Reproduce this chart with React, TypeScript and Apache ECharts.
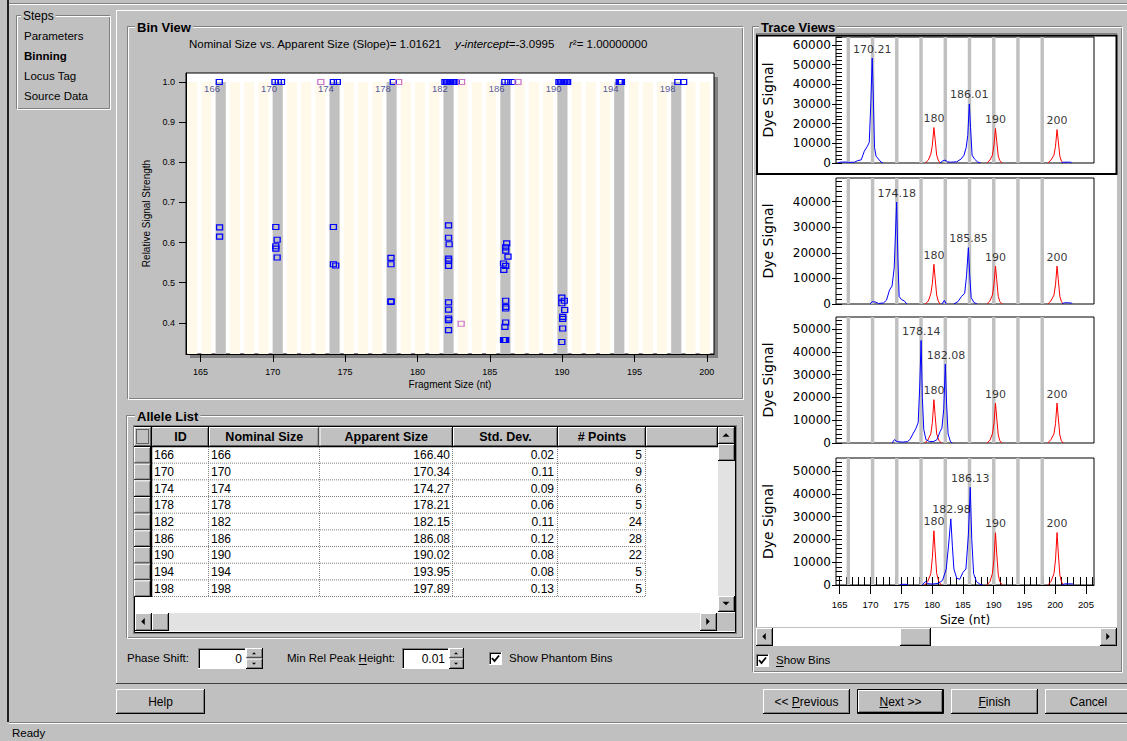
import React, { useEffect, useRef } from 'react';
import * as echarts from 'echarts';

const UI = '"Liberation Sans", Arial, Helvetica, sans-serif';
const DV = '"DejaVu Sans", Verdana, sans-serif';

// Regression shown in the Bin View title
const SLOPE = 1.01621;
const INTERCEPT = -3.0995;
const R_SQUARED = '1.00000000';

// Allele list
const alleleIds = ['166', '170', '174', '178', '182', '186', '190', '194', '198'];
const nominalSizes = ['166', '170', '174', '178', '182', '186', '190', '194', '198'];
const apparentSizes = [166.40, 170.34, 174.27, 178.21, 182.15, 186.08, 190.02, 193.95, 197.89];
const stdDevs = [0.02, 0.11, 0.09, 0.06, 0.11, 0.12, 0.08, 0.08, 0.13];
const pointCounts = [5, 9, 6, 5, 24, 28, 22, 5, 5];

// Phantom bins (every nominal size on the regression line)
const phantomNominals = [164, 165, 166, 167, 168, 169, 170, 171, 172, 173, 174, 175, 176, 177, 178, 179, 180, 181, 182, 183, 184, 185, 186, 187, 188, 189, 190, 191, 192, 193, 194, 195, 196, 197, 198, 199, 200];

// Bin view axes
const binXTicks = [165, 170, 175, 180, 185, 190, 195, 200];
const binYTicks = [0.4, 0.5, 0.6, 0.7, 0.8, 0.9, 1.0];

// Bin view points: [apparent size, relative signal strength]
const binPointsBlue = [
  [166.30, 1.0],
  [170.15, 1.0], [170.38, 1.0], [170.60, 1.0],
  [174.19, 1.0], [174.46, 1.0],
  [178.33, 1.0],
  [181.90, 1.0], [182.00, 1.0], [182.10, 1.0], [182.20, 1.0], [182.30, 1.0], [182.40, 1.0], [182.50, 1.0], [182.60, 1.0], [182.68, 1.0],
  [186.04, 1.0], [186.27, 1.0], [186.57, 1.0],
  [189.78, 1.0], [189.88, 1.0], [189.98, 1.0], [190.08, 1.0], [190.18, 1.0], [190.28, 1.0], [190.38, 1.0],
  [193.95, 1.0], [194.02, 1.0], [194.10, 1.0],
  [198.00, 1.0], [198.40, 1.0],
  [166.32, 0.638], [166.32, 0.615],
  [170.21, 0.639], [170.30, 0.607], [170.21, 0.591], [170.21, 0.585], [170.30, 0.563],
  [174.19, 0.639], [174.19, 0.546], [174.35, 0.543],
  [178.17, 0.562], [178.17, 0.546], [178.17, 0.452], [178.17, 0.454],
  [182.15, 0.643], [182.15, 0.612], [182.19, 0.596], [182.15, 0.560], [182.15, 0.555], [182.15, 0.542],
  [182.15, 0.451], [182.15, 0.433], [182.15, 0.411], [182.15, 0.407], [182.15, 0.382],
  [186.17, 0.598], [186.10, 0.588], [186.10, 0.580], [186.26, 0.565], [185.95, 0.548], [186.10, 0.542], [185.97, 0.532],
  [186.10, 0.455], [186.10, 0.440], [186.10, 0.436], [186.10, 0.401], [186.05, 0.390],
  [185.95, 0.3575], [186.03, 0.3575], [186.10, 0.3575],
  [189.98, 0.463], [190.15, 0.455], [189.98, 0.449], [190.18, 0.432], [190.04, 0.415], [190.04, 0.410], [190.04, 0.386], [189.98, 0.3525],
];
const binPointsPhantom = [
  [173.32, 1.0], [178.70, 1.0], [183.05, 1.0], [186.95, 1.0], [183.02, 0.398],
];

// Trace views
const traceXTicks = [165, 170, 175, 180, 185, 190, 195, 200, 205];
const traceYLabels1 = [0, 10000, 20000, 30000, 40000, 50000, 60000];
const traceYLabels2 = [0, 10000, 20000, 30000, 40000];
const traceYLabels3 = [0, 10000, 20000, 30000, 40000, 50000];
const traceYLabels4 = [0, 10000, 20000, 30000, 40000, 50000];

const trace1Blue = [
  [[164.7, 0], [165.1, 400], [165.9, 500], [166.4, 300], [167.4, 400], [167.9, 1200], [168.5, 1600], [169.0, 6000], [169.5, 8500], [169.8, 10500], [170.05, 30000], [170.28, 53300], [170.45, 35000], [170.65, 8000], [170.9, 3500], [171.3, 2000], [171.7, 500], [172.0, 0]],
  [[181.3, 0], [181.7, 1000], [182.1, 1500], [182.5, 600], [183.0, 400], [184.0, 600], [184.7, 2000], [185.2, 4000], [185.55, 8000], [185.8, 14000], [186.05, 30000], [186.25, 18000], [186.5, 4000], [186.9, 2000], [187.4, 500], [187.9, 0]],
  [[201.0, 0], [201.3, 400], [202.5, 400], [202.7, 0]],
];
const trace1Red = [
  [[178.9, 0], [179.4, 1500], [179.8, 4500], [180.05, 9000], [180.3, 18000], [180.5, 12000], [180.75, 4000], [181.0, 1500], [181.3, 0]],
  [[188.9, 0], [189.4, 1500], [189.8, 4000], [190.05, 9000], [190.3, 17500], [190.5, 11000], [190.75, 3500], [191.0, 1200], [191.4, 0]],
  [[198.8, 0], [199.3, 1500], [199.8, 4000], [200.05, 8500], [200.3, 17000], [200.5, 11000], [200.75, 3500], [201.0, 1000], [201.3, 0]],
];
const trace1Labels = [[170.28, 53300, '170.21'], [180.3, 18000, '180'], [186.05, 30000, '186.01'], [190.3, 17500, '190'], [200.3, 17000, '200']];

const trace2Blue = [
  [[169.9, 0], [170.3, 900], [170.9, 700], [171.3, 200], [172.1, 400], [172.6, 1500], [173.1, 5500], [173.5, 7000], [173.85, 14000], [174.25, 39800], [174.45, 18000], [174.65, 3000], [175.0, 1800], [175.5, 1200], [175.9, 0]],
  [[181.6, 0], [182.0, 1400], [182.3, 0]],
  [[183.5, 0], [184.2, 900], [184.8, 3000], [185.3, 4200], [185.6, 11000], [185.9, 22000], [186.1, 12000], [186.35, 2500], [186.8, 600], [187.3, 0]],
  [[201.1, 0], [201.5, 500], [202.6, 400], [202.8, 0]],
];
const trace2Red = [
  [[178.9, 0], [179.4, 1200], [179.8, 4000], [180.05, 8000], [180.3, 15500], [180.5, 10000], [180.75, 3500], [181.0, 1200], [181.3, 0]],
  [[188.9, 0], [189.4, 1200], [189.8, 3500], [190.05, 7500], [190.3, 14800], [190.5, 9500], [190.75, 3000], [191.0, 1000], [191.4, 0]],
  [[198.8, 0], [199.3, 1200], [199.8, 3500], [200.05, 7500], [200.3, 14800], [200.5, 9500], [200.75, 3000], [201.0, 1000], [201.3, 0]],
];
const trace2Labels = [[174.25, 39800, '174.18'], [180.3, 15500, '180'], [185.9, 22000, '185.85'], [190.3, 14800, '190'], [200.3, 14800, '200']];

const trace3Blue = [
  [[173.5, 0], [173.9, 1500], [174.3, 600], [175.2, 400], [176.0, 600], [176.4, 1500], [176.9, 4000], [177.4, 6500], [177.75, 9000], [178.0, 25000], [178.22, 45000], [178.42, 20000], [178.65, 6000], [179.0, 1500], [179.6, 600], [180.3, 700], [180.8, 1500], [181.3, 5000], [181.6, 6500], [181.9, 15000], [182.15, 34600], [182.35, 18000], [182.6, 4000], [183.0, 500], [183.3, 0]],
];
const trace3Red = [
  [[178.8, 0], [179.3, 1200], [179.8, 4000], [180.05, 9000], [180.3, 19000], [180.5, 12000], [180.75, 4000], [181.1, 1200], [181.5, 0]],
  [[188.9, 0], [189.4, 1200], [189.8, 4000], [190.05, 8500], [190.3, 17500], [190.5, 11000], [190.75, 3500], [191.0, 1000], [191.4, 0]],
  [[198.8, 0], [199.3, 1500], [199.8, 4000], [200.05, 8500], [200.3, 17500], [200.5, 11000], [200.75, 3500], [201.0, 1000], [201.3, 0]],
];
const trace3Labels = [[178.25, 45000, '178.14'], [180.3, 19000, '180'], [182.25, 34600, '182.08'], [190.3, 17500, '190'], [200.3, 17500, '200']];

const trace4Blue = [
  [[174.8, 0], [175.1, 300], [175.8, 300], [176.1, 0]],
  [[178.4, 0], [178.9, 1500], [179.3, 600], [180.0, 400], [181.0, 700], [181.7, 2000], [182.3, 7000], [182.7, 18000], [183.05, 29000], [183.3, 17000], [183.55, 7000], [184.0, 3000], [184.5, 2500], [185.0, 5500], [185.5, 7000], [185.9, 22000], [186.2, 42850], [186.45, 20000], [186.75, 5000], [187.2, 1500], [187.8, 300], [188.2, 0]],
  [[201.1, 0], [201.5, 500], [202.8, 500], [203.0, 0]],
];
const trace4Red = [
  [[178.8, 0], [179.3, 1500], [179.8, 5000], [180.05, 12000], [180.3, 23800], [180.5, 15000], [180.75, 5000], [181.1, 1500], [181.5, 0]],
  [[188.9, 0], [189.4, 1500], [189.8, 5000], [190.05, 11000], [190.3, 22900], [190.5, 14000], [190.75, 4500], [191.0, 1500], [191.4, 0]],
  [[198.8, 0], [199.3, 1500], [199.8, 5000], [200.05, 11000], [200.3, 23000], [200.5, 14000], [200.75, 4500], [201.0, 1500], [201.3, 0]],
];
const trace4Labels = [[180.3, 23800, '180'], [183.15, 29000, '182.98'], [186.2, 42850, '186.13'], [190.3, 22900, '190'], [200.3, 23000, '200']];

const TRACE_X_MIN = 164.4;
const TRACE_X_MAX = 206.3;

const tracePanels = [
  { top: 37, height: 126, yMax: 64000, labels: traceYLabels1, blue: trace1Blue, red: trace1Red, peaks: trace1Labels },
  { top: 178, height: 126, yMax: 49200, labels: traceYLabels2, blue: trace2Blue, red: trace2Red, peaks: trace2Labels },
  { top: 317, height: 126, yMax: 55300, labels: traceYLabels3, blue: trace3Blue, red: trace3Red, peaks: trace3Labels },
  { top: 458, height: 127, yMax: 55700, labels: traceYLabels4, blue: trace4Blue, red: trace4Red, peaks: trace4Labels },
];

function joinSegments(segs: any[]) {
  const out: any[] = [];
  segs.forEach((s: any[], i: number) => {
    if (i > 0) out.push([s[0][0], '-']);
    s.forEach((p) => out.push(p));
  });
  return out;
}

function range(a: number, b: number, step: number) {
  const r: number[] = [];
  for (let v = a; v <= b + 1e-9; v += step) r.push(Math.round(v * 1000) / 1000);
  return r;
}

function buildChrome() {
  const els: any[] = [];
  const Z = -10;
  const rect = (x: number, y: number, w: number, h: number, fill: string, stroke?: string, lw = 1, dash?: number[]) =>
    els.push({ type: 'rect', z: Z, silent: true, shape: { x, y, width: w, height: h }, style: { fill, stroke: stroke || 'none', lineWidth: lw, lineDash: dash || null } });
  const line = (x1: number, y1: number, x2: number, y2: number, stroke: string, lw = 1, dash?: number[]) =>
    els.push({ type: 'line', z: Z, silent: true, shape: { x1, y1, x2, y2 }, style: { stroke, lineWidth: lw, lineDash: dash || null, fill: 'none' } });
  const text = (x: number, y: number, t: string, o: any = {}) =>
    els.push({
      type: 'text', z: Z, silent: true, x, y,
      style: {
        text: t, fill: o.color || '#000', fontSize: o.size || 11.5, fontFamily: o.family || UI,
        fontWeight: o.weight || 'normal', fontStyle: o.italic ? 'italic' : 'normal',
        align: o.align || 'left', textAlign: o.align || 'left', verticalAlign: 'middle', textVerticalAlign: 'middle',
        backgroundColor: o.bg, padding: o.pad, rich: o.rich,
      },
    });
  const poly = (pts: number[][], fill: string) =>
    els.push({ type: 'polygon', z: Z, silent: true, shape: { points: pts }, style: { fill, stroke: 'none' } });
  const polyline = (pts: number[][], stroke: string, lw: number) =>
    els.push({ type: 'polyline', z: Z, silent: true, shape: { points: pts }, style: { stroke, lineWidth: lw, fill: 'none' } });

  const raised = (x: number, y: number, w: number, h: number) => {
    rect(x, y, w, h, '#c0c0c0');
    line(x, y + 0.5, x + w - 1, y + 0.5, '#ffffff');
    line(x + 0.5, y, x + 0.5, y + h - 1, '#ffffff');
    line(x + 1, y + h - 1.5, x + w - 1, y + h - 1.5, '#808080');
    line(x + w - 1.5, y + 1, x + w - 1.5, y + h - 1, '#808080');
    line(x, y + h - 0.5, x + w, y + h - 0.5, '#000000');
    line(x + w - 0.5, y, x + w - 0.5, y + h, '#000000');
  };
  const sunken = (x: number, y: number, w: number, h: number, fill: string) => {
    rect(x, y, w, h, fill);
    line(x, y + 0.5, x + w, y + 0.5, '#808080');
    line(x + 0.5, y, x + 0.5, y + h, '#808080');
    line(x + 1, y + 1.5, x + w - 1, y + 1.5, '#000000');
    line(x + 1.5, y + 1, x + 1.5, y + h - 1, '#000000');
    line(x, y + h - 0.5, x + w, y + h - 0.5, '#ffffff');
    line(x + w - 0.5, y, x + w - 0.5, y + h, '#ffffff');
  };
  const group = (x: number, y: number, w: number, h: number, label: string, lx: number, bold: boolean) => {
    rect(x + 0.5, y + 0.5, w, h, 'none', '#808080');
    rect(x + 1.5, y + 1.5, w, h, 'none', '#ffffff');
    text(lx, y + 1, label, { weight: bold ? 'bold' : 'normal', size: bold ? 13 : 12, bg: '#c0c0c0', pad: [0, 2] });
  };
  const tri = (cx: number, cy: number, dir: string, s = 3.5) => {
    if (dir === 'up') poly([[cx - s, cy + s / 2], [cx + s, cy + s / 2], [cx, cy - s / 2]], '#000');
    if (dir === 'down') poly([[cx - s, cy - s / 2], [cx + s, cy - s / 2], [cx, cy + s / 2]], '#000');
    if (dir === 'left') poly([[cx + s / 2, cy - s], [cx + s / 2, cy + s], [cx - s / 2, cy]], '#000');
    if (dir === 'right') poly([[cx - s / 2, cy - s], [cx - s / 2, cy + s], [cx + s / 2, cy]], '#000');
  };
  const arrowBtn = (x: number, y: number, w: number, h: number, dir: string) => {
    raised(x, y, w, h);
    tri(x + w / 2 - 0.5, y + h / 2 - 0.5, dir);
  };
  const button = (x: number, y: number, w: number, h: number, label: string, def = false) => {
    if (def) {
      rect(x + 0.5, y + 0.5, w - 1, h - 1, '#c0c0c0', '#000000');
      raised(x + 1, y + 1, w - 2, h - 2);
    } else raised(x, y, w, h);
    text(x + w / 2, y + h / 2, label, { align: 'center', size: 12 });
  };
  const checkbox = (x: number, y: number) => {
    sunken(x, y, 13, 13, '#ffffff');
    polyline([[x + 3, y + 6], [x + 5.5, y + 9], [x + 10, y + 3.5]], '#000', 1.8);
  };
  const spinner = (x: number, y: number, w: number, h: number) => {
    raised(x, y, w, h / 2);
    raised(x, y + h / 2, w, h / 2);
    tri(x + w / 2 - 0.5, y + h / 4, 'up', 2);
    tri(x + w / 2 - 0.5, y + (3 * h) / 4, 'down', 2);
  };

  // window frame
  rect(7, 0, 2, 722, '#202020');
  line(9, 3.5, 1127, 3.5, '#808080');
  line(9, 4.5, 1127, 4.5, '#ffffff');

  // Steps
  group(16, 15, 93, 93, 'Steps', 21, false);
  text(24, 36, 'Parameters');
  text(24, 56, 'Binning', { weight: 'bold' });
  text(24, 76, 'Locus Tag');
  text(24, 96, 'Source Data');

  // main panel
  line(116.5, 10, 116.5, 683, '#ffffff');
  line(116, 10.5, 1127, 10.5, '#ffffff');
  line(116, 683.5, 1127, 683.5, '#404040');

  // Bin View
  group(127, 26, 615, 372, 'Bin View', 135, true);
  text(189, 44, `Nominal Size vs. Apparent Size (Slope)= ${SLOPE.toFixed(5)}`);
  text(455, 44, `{i|y-intercept}=${INTERCEPT.toFixed(4)}`, { rich: { i: { fontStyle: 'italic', fontSize: 11.5, fontFamily: UI } } });
  text(569, 44, `{i|r}²= ${R_SQUARED}`, { rich: { i: { fontStyle: 'italic', fontSize: 11.5, fontFamily: UI } } });
  rect(190, 77, 528, 281, '#808080');

  // Allele list
  group(126, 415, 616, 222, 'Allele List', 135, true);
  rect(133, 425, 604, 209, '#808080');
  rect(134.5, 426.5, 601, 206, '#ffffff', '#000000');
  const cols = [134, 152, 209, 319.5, 453, 558, 646, 718];
  const headers = ['', 'ID', 'Nominal Size', 'Apparent Size', 'Std. Dev.', '# Points', ''];
  for (let c = 0; c < cols.length - 1; c++) {
    raised(cols[c], 427, cols[c + 1] - cols[c], 20);
    if (headers[c]) text((cols[c] + cols[c + 1]) / 2, 437, headers[c], { align: 'center', weight: 'bold', size: 12.5 });
  }
  rect(136.5, 429.5, 12, 14, 'none', '#000000', 1, [1, 1]);
  line(134, 446.5, 718, 446.5, '#000000', 1.5);
  const rowH = 16.67;
  for (let i = 0; i < alleleIds.length; i++) {
    const y = 447 + i * rowH;
    const yc = y + rowH / 2;
    raised(134, y, 17, rowH);
    line(152, y + rowH - 0.5, 646, y + rowH - 0.5, '#808080', 1, [1, 1]);
    text(154, yc, alleleIds[i], { size: 12 });
    text(211, yc, nominalSizes[i], { size: 12 });
    text(450, yc, apparentSizes[i].toFixed(2), { size: 12, align: 'right' });
    text(554, yc, stdDevs[i].toFixed(2), { size: 12, align: 'right' });
    text(642, yc, String(pointCounts[i]), { size: 12, align: 'right' });
  }
  const rowsBottom = 447 + alleleIds.length * rowH;
  [208.5, 319.5, 452.5, 557.5, 645.5].forEach((x) => line(x, 447, x, rowsBottom, '#808080', 1, [1, 1]));
  line(151.5, 427, 151.5, rowsBottom, '#000000', 1.5);
  // vertical scrollbar
  arrowBtn(718, 427, 17, 17, 'up');
  raised(718, 444, 17, 17);
  rect(718, 461, 17, 135, '#e2e2e2');
  arrowBtn(718, 596, 17, 16, 'down');
  // horizontal scrollbar
  arrowBtn(135, 613, 17, 18, 'left');
  raised(152, 613, 17, 18);
  rect(169, 613, 531, 18, '#e2e2e2');
  arrowBtn(700, 613, 17, 18, 'right');
  rect(717, 613, 18, 18, '#c0c0c0');

  // controls under the allele list
  text(127, 658, 'Phase Shift:');
  sunken(198, 648, 48, 21, '#ffffff');
  text(242, 658.5, '0', { align: 'right', size: 12 });
  spinner(246, 648, 17, 21);
  text(287, 658, 'Min Rel Peak Height:');
  line(358.6, 664.5, 366.9, 664.5, '#000000');
  sunken(402, 648, 47, 21, '#ffffff');
  text(445, 658.5, '0.01', { align: 'right', size: 12 });
  spinner(449, 648, 15, 21);
  checkbox(489, 652);
  text(509, 658, 'Show Phantom Bins');

  // Trace Views
  group(752, 26, 369, 645, 'Trace Views', 759, true);
  rect(756, 33, 361, 594, '#ffffff');
  line(756, 33.5, 1117, 33.5, '#808080');
  line(756.5, 33, 756.5, 627, '#808080');
  rect(757, 35.5, 359.5, 138.5, 'none', '#000000', 2);
  arrowBtn(756, 628, 17, 18, 'left');
  rect(773, 628, 327, 18, '#ffffff');
  raised(900, 628, 31, 18);
  arrowBtn(1100, 628, 17, 18, 'right');
  checkbox(756, 654);
  text(776, 660, 'Show Bins');
  line(776, 666.5, 783.7, 666.5, '#000000');

  // bottom buttons
  button(116, 689, 89, 25, 'Help');
  button(763, 689, 87, 25, '<< Previous');
  line(792, 707.5, 800, 707.5, '#000000');
  button(857, 689, 87, 25, 'Next >>', true);
  line(879.5, 707.5, 888, 707.5, '#000000');
  button(951, 689, 87, 25, 'Finish');
  line(978.5, 707.5, 985.8, 707.5, '#000000');
  button(1045, 689, 87, 25, 'Cancel');

  // status bar
  line(9, 722.5, 1127, 722.5, '#808080');
  line(9, 723.5, 1127, 723.5, '#ffffff');
  text(12, 733, 'Ready');

  return els;
}

function buildOption() {
  const grids: any[] = [
    { left: 186, top: 73, width: 528, height: 281, show: true, backgroundColor: '#ffffff', borderColor: '#000000', borderWidth: 1, outerBoundsMode: 'none', containLabel: false },
  ];
  tracePanels.forEach((p) =>
    grids.push({ left: 836, top: p.top, width: 258, height: p.height, show: true, backgroundColor: '#ffffff', borderColor: '#000000', borderWidth: 1, outerBoundsMode: 'none', containLabel: false })
  );

  const xAxes: any[] = [
    {
      gridIndex: 0, type: 'value', min: 164, max: 200.5, position: 'bottom',
      axisLine: { show: true, onZero: false, lineStyle: { color: '#000', width: 1 } },
      axisTick: { show: true, length: 8, customValues: binXTicks, lineStyle: { color: '#000' } },
      axisLabel: { customValues: binXTicks, fontSize: 9, color: '#000', margin: 13, fontFamily: UI },
      splitLine: { show: false },
      name: 'Fragment Size (nt)', nameLocation: 'middle', nameGap: 25,
      nameTextStyle: { fontSize: 10, color: '#000', fontFamily: UI },
    },
  ];
  const yAxes: any[] = [
    {
      gridIndex: 0, type: 'value', min: 0.3225, max: 1.0225, position: 'left',
      axisLine: { show: true, onZero: false, lineStyle: { color: '#000', width: 1 } },
      axisTick: { show: true, length: 7, customValues: binYTicks, lineStyle: { color: '#000' } },
      axisLabel: { customValues: binYTicks, formatter: (v: number) => v.toFixed(1), fontSize: 9, color: '#000', margin: 11, fontFamily: UI },
      splitLine: { show: false },
      name: 'Relative Signal Strength', nameLocation: 'middle', nameGap: 35,
      nameTextStyle: { fontSize: 10, color: '#000', fontFamily: UI },
    },
  ];

  const series: any[] = [];
  const phantomAreas = phantomNominals.map((n) => {
    const c = (n - INTERCEPT) / SLOPE;
    return [{ xAxis: c - 0.35, yAxis: 1.0, itemStyle: { color: '#fff9ea' } }, { xAxis: c + 0.35, yAxis: 0.3225 }];
  });
  const binAreas = apparentSizes.map((c) => [{ xAxis: c - 0.35, yAxis: 1.0, itemStyle: { color: '#c0c0c0' } }, { xAxis: c + 0.35, yAxis: 0.3225 }]);
  series.push({
    type: 'scatter', xAxisIndex: 0, yAxisIndex: 0, data: [], silent: true, z: 1,
    markArea: { silent: true, label: { show: false }, data: [...phantomAreas, ...binAreas] },
  });
  series.push({
    type: 'scatter', xAxisIndex: 0, yAxisIndex: 0, data: binPointsBlue, symbol: 'rect', symbolSize: [6, 5], z: 4, silent: true,
    itemStyle: { color: 'rgba(0,0,0,0)', borderColor: '#0000ff', borderWidth: 1.2, opacity: 1 },
  });
  series.push({
    type: 'scatter', xAxisIndex: 0, yAxisIndex: 0, data: binPointsPhantom, symbol: 'rect', symbolSize: [6, 5], z: 4, silent: true,
    itemStyle: { color: 'rgba(0,0,0,0)', borderColor: '#cc77cc', borderWidth: 1.2, opacity: 1 },
  });
  series.push({
    type: 'scatter', xAxisIndex: 0, yAxisIndex: 0, z: 5, silent: true, symbolSize: 1,
    itemStyle: { color: 'rgba(0,0,0,0)' },
    data: apparentSizes.map((c, i) => [c - 0.6, 0.985, alleleIds[i]]),
    label: { show: true, position: 'inside', formatter: (p: any) => p.value[2], color: '#2b2b80', fontSize: 9.5, fontFamily: UI },
  });

  tracePanels.forEach((p, k) => {
    const g = k + 1;
    const isLast = k === tracePanels.length - 1;
    const xi = xAxes.length;
    xAxes.push({
      gridIndex: g, type: 'value', min: TRACE_X_MIN, max: TRACE_X_MAX, position: 'bottom',
      axisLine: { show: isLast, onZero: false, lineStyle: { color: '#000' } },
      axisTick: { show: isLast, length: 9, customValues: traceXTicks, lineStyle: { color: '#000' } },
      axisLabel: { show: isLast, customValues: traceXTicks, fontSize: 9.5, color: '#000', margin: 14, fontFamily: UI },
      splitLine: { show: false },
      name: isLast ? 'Size (nt)' : '', nameLocation: 'middle', nameGap: 29,
      nameTextStyle: { fontSize: 12, color: '#000', fontFamily: DV },
    });
    if (isLast) {
      xAxes.push({
        gridIndex: g, type: 'value', min: TRACE_X_MIN, max: TRACE_X_MAX, position: 'bottom',
        axisLine: { show: false, onZero: false },
        axisTick: { show: true, inside: true, length: 8, customValues: range(165, 206, 1), lineStyle: { color: '#000' } },
        axisLabel: { show: false }, splitLine: { show: false },
      });
    }
    const yi = yAxes.length;
    yAxes.push({
      gridIndex: g, type: 'value', min: 0, max: p.yMax, position: 'left',
      axisLine: { show: false, onZero: false },
      axisTick: { show: true, length: 4, customValues: p.labels, lineStyle: { color: '#000' } },
      axisLabel: { customValues: p.labels, formatter: (v: number) => String(v), fontSize: 12, color: '#000', margin: 5, fontFamily: DV },
      splitLine: { show: false },
      name: 'Dye Signal', nameLocation: 'middle', nameGap: 61,
      nameTextStyle: { fontSize: 14, color: '#000', fontFamily: DV },
    });
    yAxes.push({
      gridIndex: g, type: 'value', min: 0, max: p.yMax, position: 'left',
      axisLine: { show: false, onZero: false },
      axisTick: { show: true, inside: true, length: 6, customValues: range(0, p.yMax, 2000), lineStyle: { color: '#000' } },
      axisLabel: { show: false }, splitLine: { show: false },
    });
    series.push({
      type: 'scatter', xAxisIndex: xi, yAxisIndex: yi, data: [], silent: true, z: 1,
      markArea: {
        silent: true, label: { show: false },
        data: apparentSizes.map((c) => [{ xAxis: c - 0.28, yAxis: 0, itemStyle: { color: '#c0c0c0' } }, { xAxis: c + 0.28, yAxis: p.yMax }]),
      },
    });
    series.push({
      type: 'line', xAxisIndex: xi, yAxisIndex: yi, data: joinSegments(p.red), symbol: 'none', showSymbol: false, z: 3, silent: true,
      lineStyle: { color: '#ff0000', width: 1 }, connectNulls: false,
    });
    series.push({
      type: 'line', xAxisIndex: xi, yAxisIndex: yi, data: joinSegments(p.blue), symbol: 'none', showSymbol: false, z: 4, silent: true,
      lineStyle: { color: '#0000ff', width: 1 }, connectNulls: false,
    });
    series.push({
      type: 'scatter', xAxisIndex: xi, yAxisIndex: yi, data: p.peaks, symbolSize: 1, z: 5, silent: true,
      itemStyle: { color: 'rgba(0,0,0,0)' },
      label: { show: true, position: 'top', distance: 3, formatter: (q: any) => q.value[2], color: '#000', fontSize: 11, fontFamily: DV },
    });
  });

  return {
    animation: false,
    backgroundColor: '#c0c0c0',
    textStyle: { fontFamily: UI },
    graphic: { elements: buildChrome() },
    grid: grids,
    xAxis: xAxes,
    yAxis: yAxes,
    series,
  };
}

export default function App() {
  const ref = useRef<HTMLDivElement>(null);
  useEffect(() => {
    if (!ref.current) return;
    const chart = echarts.init(ref.current, null, { renderer: 'svg', width: 1127, height: 741 });
    chart.setOption(buildOption() as any);
    return () => chart.dispose();
  }, []);
  return <div ref={ref} style={{ position: 'fixed', left: 0, top: 0, width: 1127, height: 741, background: '#c0c0c0' }} />;
}
